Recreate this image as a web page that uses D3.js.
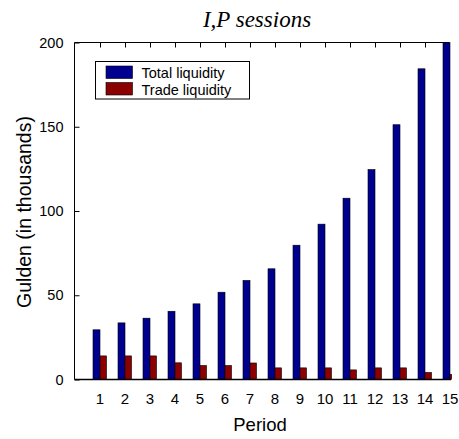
<!DOCTYPE html>
<html>
<head>
<meta charset="utf-8">
<script src="https://cdn.jsdelivr.net/npm/d3@7"></script>
<style>
  body { margin: 0; background: #fff; }
  svg { display: block; }
</style>
</head>
<body>
<svg width="459" height="439"></svg>
<script>
// periods 1..15
const periods = [1, 2, 3, 4, 5, 6, 7, 8, 9, 10, 11, 12, 13, 14, 15];
const totalLiquidity = [29.5, 33.6, 36.4, 40.5, 44.9, 51.8, 58.8, 65.7, 79.7, 92.2, 107.6, 124.6, 151.2, 184.4, 200];
const tradeLiquidity = [14, 14, 14, 9.9, 8.3, 8.3, 9.8, 6.9, 6.9, 6.9, 5.7, 6.9, 6.9, 4.2, 3.0];
const yTicks = [0, 50, 100, 150, 200];
const seriesNames = ["Total liquidity", "Trade liquidity"];
const colors = ["#00008f", "#8b0000"];

const svg = d3.select("svg");
const plotLeft = 74.5, plotTop = 42.5, plotBottom = 379.5;

const x = d3.scaleLinear().domain([0, 15]).range([75, 450]);
const y = d3.scaleLinear().domain([0, 200]).range([plotBottom, plotTop]);

svg.append("defs").append("clipPath").attr("id", "plot")
    .append("rect")
    .attr("x", plotLeft).attr("y", plotTop - 1)
    .attr("width", 452 - plotLeft).attr("height", plotBottom - plotTop + 1);

const bars = svg.append("g").attr("clip-path", "url(#plot)");

// total liquidity: left of the period tick
bars.selectAll("rect.total")
    .data(periods)
    .enter().append("rect")
    .attr("class", "total")
    .attr("x", (d) => x(d) - 7)
    .attr("y", (d, i) => y(totalLiquidity[i]))
    .attr("width", 7)
    .attr("height", (d, i) => plotBottom - y(totalLiquidity[i]))
    .attr("fill", colors[0])
    .attr("stroke", "#000")
    .attr("stroke-width", 0.6);

// trade liquidity: right of the tick
bars.selectAll("rect.trade")
    .data(periods)
    .enter().append("rect")
    .attr("class", "trade")
    .attr("x", (d) => x(d))
    .attr("y", (d, i) => y(tradeLiquidity[i]))
    .attr("width", 6.5)
    .attr("height", (d, i) => plotBottom - y(tradeLiquidity[i]))
    .attr("fill", colors[1])
    .attr("stroke", "#000")
    .attr("stroke-width", 0.6);

// frame lines (right side is cut off in the original)
svg.append("line")
    .attr("x1", plotLeft).attr("x2", plotLeft).attr("y1", plotTop).attr("y2", plotBottom)
    .attr("stroke", "#000");
svg.append("line")
    .attr("x1", plotLeft).attr("x2", 449).attr("y1", plotTop).attr("y2", plotTop)
    .attr("stroke", "#000");
svg.append("line")
    .attr("x1", plotLeft).attr("x2", 451).attr("y1", plotBottom).attr("y2", plotBottom)
    .attr("stroke", "#000").attr("stroke-width", 1.3);

// y axis, ticks pointing inward
const yAxis = svg.append("g")
    .attr("transform", `translate(${plotLeft},0)`)
    .call(d3.axisLeft(y).tickValues(yTicks).tickSizeInner(-5).tickSizeOuter(0).tickPadding(11));
yAxis.select(".domain").remove();
yAxis.selectAll("text")
    .attr("font-family", "Liberation Sans, Arial, sans-serif")
    .attr("font-size", 14.5)
    .attr("fill", "#000");

// top ticks
const topAxis = svg.append("g")
    .attr("transform", `translate(0,${plotTop})`)
    .call(d3.axisTop(x).tickValues(periods.slice(0, 14)).tickSizeInner(-5).tickSizeOuter(0).tickFormat(""));
topAxis.select(".domain").remove();

// period labels
svg.append("g").selectAll("text")
    .data(periods)
    .enter().append("text")
    .attr("x", (d) => x(d))
    .attr("y", 404)
    .attr("text-anchor", "middle")
    .attr("font-family", "Liberation Sans, Arial, sans-serif")
    .attr("font-size", 15)
    .text((d) => d);

// title and axis labels
svg.append("text")
    .attr("x", 257).attr("y", 27)
    .attr("text-anchor", "middle")
    .attr("font-family", "Liberation Serif, Times New Roman, serif")
    .attr("font-style", "italic")
    .attr("font-size", 23)
    .text("I,P sessions");

svg.append("text")
    .attr("x", 260).attr("y", 431)
    .attr("text-anchor", "middle")
    .attr("font-family", "Liberation Sans, Arial, sans-serif")
    .attr("font-size", 18.5)
    .text("Period");

svg.append("text")
    .attr("transform", "translate(31,212) rotate(-90)")
    .attr("text-anchor", "middle")
    .attr("font-family", "Liberation Sans, Arial, sans-serif")
    .attr("font-size", 19.5)
    .text("Gulden (in thousands)");

// legend
const legend = svg.append("g");
legend.append("rect")
    .attr("x", 95.5).attr("y", 61.5)
    .attr("width", 154).attr("height", 37.5)
    .attr("fill", "#fff").attr("stroke", "#000");
seriesNames.forEach((name, i) => {
    legend.append("rect")
        .attr("x", 106).attr("y", 66 + i * 16.5)
        .attr("width", 26.5).attr("height", 12.5)
        .attr("fill", colors[i])
        .attr("stroke", "#000").attr("stroke-width", 0.6);
    legend.append("text")
        .attr("x", 141.5).attr("y", 78 + i * 16.5)
        .attr("font-family", "Liberation Sans, Arial, sans-serif")
        .attr("font-size", 14.5)
        .text(name);
});
</script>
</body>
</html>
